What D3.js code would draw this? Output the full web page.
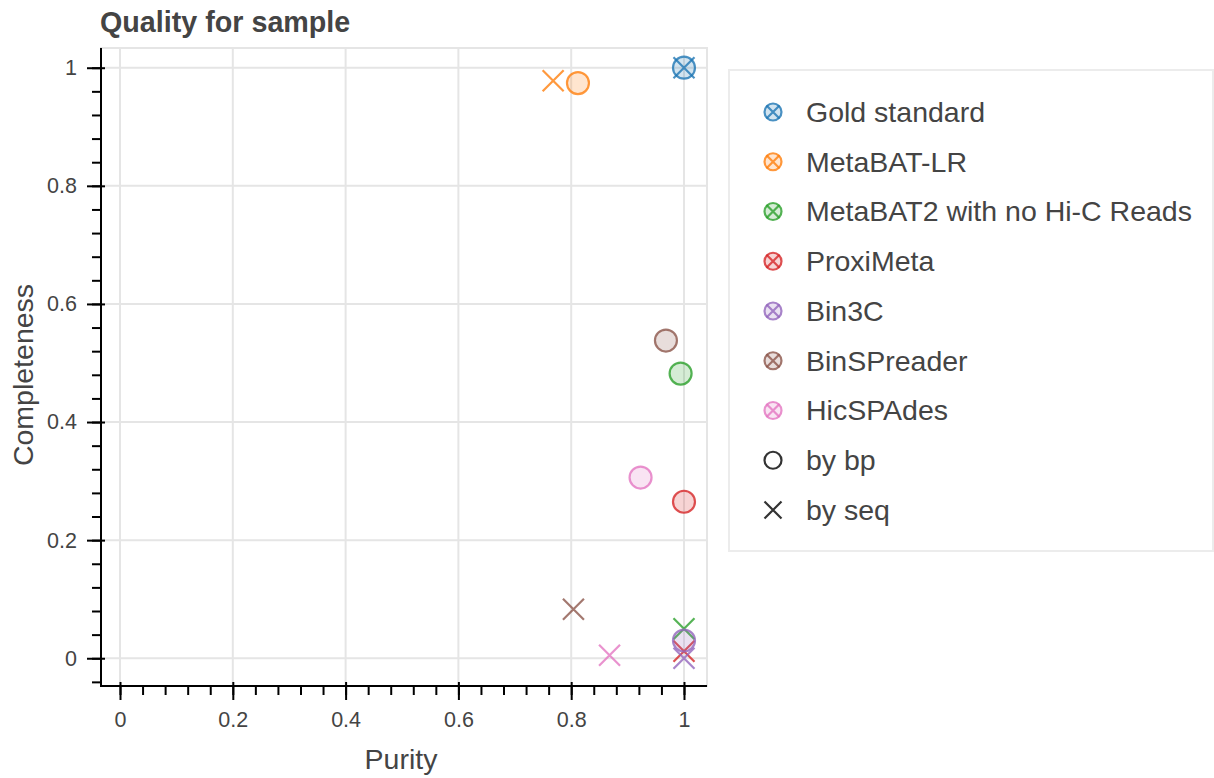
<!DOCTYPE html>
<html>
<head>
<meta charset="utf-8">
<script src="https://cdn.jsdelivr.net/npm/d3@7"></script>
<style>
  html, body { margin: 0; padding: 0; background: #fff; }
  svg { display: block; font-family: "Liberation Sans", Arial, Helvetica, sans-serif; }
</style>
</head>
<body>
<svg id="chart" width="1214" height="778"></svg>
<script>
// ---- data ----
const methods = ["Gold standard", "MetaBAT-LR", "MetaBAT2 with no Hi-C Reads", "ProxiMeta", "Bin3C", "BinSPreader", "HicSPAdes"];
const colors = ["#1f77b4", "#ff7f0e", "#2ca02c", "#d62728", "#9467bd", "#8c564b", "#e377c2"];
const purityBp = [1.0, 0.812, 0.994, 1.0, 1.0, 0.968, 0.923];
const completenessBp = [1.0, 0.974, 0.482, 0.265, 0.030, 0.538, 0.306];
const puritySeq = [1.0, 0.768, 1.0, 1.0, 1.0, 0.804, 0.868];
const completenessSeq = [1.0, 0.978, 0.050, 0.012, 0.0, 0.083, 0.005];
const xTicks = [0, 0.2, 0.4, 0.6, 0.8, 1];
const yTicks = [0, 0.2, 0.4, 0.6, 0.8, 1];
const legendExtra = ["by bp", "by seq"];
const title = "Quality for sample";
const xLabel = "Purity";
const yLabel = "Completeness";

// ---- layout ----
const frame = { left: 101, right: 707, top: 48, bottom: 686 };
const svg = d3.select("#chart");
const x = d3.scaleLinear().domain([-0.0337, 1.0408]).range([frame.left, frame.right]);
const y = d3.scaleLinear().domain([-0.047, 1.0334]).range([frame.bottom, frame.top]);
const txt = "#444444";
const fmt = d => d3.format("~g")(d);

// grid
const grid = svg.append("g");
grid.selectAll("line.gx").data(xTicks).join("line")
  .attr("x1", d => x(d)).attr("x2", d => x(d))
  .attr("y1", frame.top).attr("y2", frame.bottom)
  .attr("stroke", "#e5e5e5").attr("stroke-width", 2);
grid.selectAll("line.gy").data(yTicks).join("line")
  .attr("y1", d => y(d)).attr("y2", d => y(d))
  .attr("x1", frame.left).attr("x2", frame.right)
  .attr("stroke", "#e5e5e5").attr("stroke-width", 2);

// frame outline
svg.append("rect")
  .attr("x", frame.left).attr("y", frame.top)
  .attr("width", frame.right - frame.left).attr("height", frame.bottom - frame.top)
  .attr("fill", "none").attr("stroke", "#e5e5e5").attr("stroke-width", 2);

// minor ticks
const minorX = d3.range(0, 26).map(i => +(i * 0.04).toFixed(2)).filter(v => x(v) <= frame.right + 0.5);
const minorY = d3.range(-1, 26).map(i => +(i * 0.04).toFixed(2)).filter(v => y(v) >= frame.top && y(v) <= frame.bottom);

const xMinor = svg.append("g").attr("transform", `translate(0,${frame.bottom})`)
  .call(d3.axisBottom(x).tickValues(minorX).tickSize(9).tickFormat(""));
xMinor.select(".domain").remove();
xMinor.selectAll("line").attr("stroke", "#000").attr("stroke-width", 2);

const yMinor = svg.append("g").attr("transform", `translate(${frame.left},0)`)
  .call(d3.axisLeft(y).tickValues(minorY).tickSize(9).tickFormat(""));
yMinor.select(".domain").remove();
yMinor.selectAll("line").attr("stroke", "#000").attr("stroke-width", 2);

// major axes
const xAxis = svg.append("g").attr("transform", `translate(0,${frame.bottom})`)
  .call(d3.axisBottom(x).tickValues(xTicks).tickSizeInner(14).tickSizeOuter(0).tickPadding(12).tickFormat(fmt));
xAxis.select(".domain").attr("stroke", "#000").attr("stroke-width", 2)
  .attr("d", `M${frame.left - 1},0H${frame.right}`);
xAxis.selectAll(".tick line").attr("stroke", "#000").attr("stroke-width", 2).attr("y1", -4);
xAxis.selectAll(".tick text").attr("fill", txt).attr("font-size", 21.5)
  .attr("font-family", "'Liberation Sans', Arial, sans-serif");

const yAxis = svg.append("g").attr("transform", `translate(${frame.left},0)`)
  .call(d3.axisLeft(y).tickValues(yTicks).tickSizeInner(14).tickSizeOuter(0).tickPadding(10).tickFormat(fmt));
yAxis.select(".domain").attr("stroke", "#000").attr("stroke-width", 2)
  .attr("d", `M0,${frame.top}V${frame.bottom + 1}`);
yAxis.selectAll(".tick line").attr("stroke", "#000").attr("stroke-width", 2).attr("x1", 4);
yAxis.selectAll(".tick text").attr("fill", txt).attr("font-size", 21.5)
  .attr("font-family", "'Liberation Sans', Arial, sans-serif");

// title & labels
svg.append("text").attr("x", 100).attr("y", 32).text(title)
  .attr("font-size", 28.7).attr("font-weight", "bold").attr("fill", txt);
svg.append("text").attr("x", 401).attr("y", 769)
  .attr("text-anchor", "middle").attr("font-size", 28.5).attr("fill", txt).text(xLabel);
svg.append("text").attr("transform", `translate(33,375) rotate(-90)`)
  .attr("text-anchor", "middle").attr("font-size", 28.5).attr("fill", txt).text(yLabel);

// marker helpers
function xPath(s) { return `M${-s},${-s}L${s},${s}M${-s},${s}L${s},${-s}`; }

// points
const pts = svg.append("g");
methods.forEach((m, i) => {
  pts.append("circle")
    .attr("cx", x(purityBp[i])).attr("cy", y(completenessBp[i])).attr("r", 11)
    .attr("fill", colors[i]).attr("fill-opacity", 0.2)
    .attr("stroke", colors[i]).attr("stroke-opacity", 0.8).attr("stroke-width", 2.2);
  pts.append("path")
    .attr("transform", `translate(${x(puritySeq[i])},${y(completenessSeq[i])})`)
    .attr("d", xPath(10.5))
    .attr("fill", "none").attr("stroke", colors[i]).attr("stroke-opacity", 0.8).attr("stroke-width", 2.2);
});

// legend
const lg = svg.append("g");
lg.append("rect").attr("x", 729).attr("y", 70).attr("width", 484).attr("height", 481)
  .attr("fill", "#fff").attr("stroke", "#ececec").attr("stroke-width", 2);
const entries = methods.map((m, i) => ({ label: m, color: colors[i], kind: "both" }))
  .concat([{ label: legendExtra[0], color: "#000", kind: "circle" }, { label: legendExtra[1], color: "#000", kind: "x" }]);
entries.forEach((e, i) => {
  const cy = 112 + i * 49.75;
  const g = lg.append("g").attr("transform", `translate(773,${cy})`);
  if (e.kind !== "x") {
    g.append("circle").attr("r", 8.5)
      .attr("fill", e.kind === "both" ? e.color : "none").attr("fill-opacity", 0.2)
      .attr("stroke", e.color).attr("stroke-opacity", 0.8).attr("stroke-width", 2.2);
  }
  if (e.kind !== "circle") {
    g.append("path").attr("d", xPath(e.kind === "x" ? 8.5 : 6.5))
      .attr("fill", "none").attr("stroke", e.color).attr("stroke-opacity", 0.8).attr("stroke-width", 2.2);
  }
  lg.append("text").attr("x", 806).attr("y", cy).attr("dy", "0.35em")
    .attr("font-size", 28.5).attr("fill", txt).text(e.label);
});
</script>
</body>
</html>
